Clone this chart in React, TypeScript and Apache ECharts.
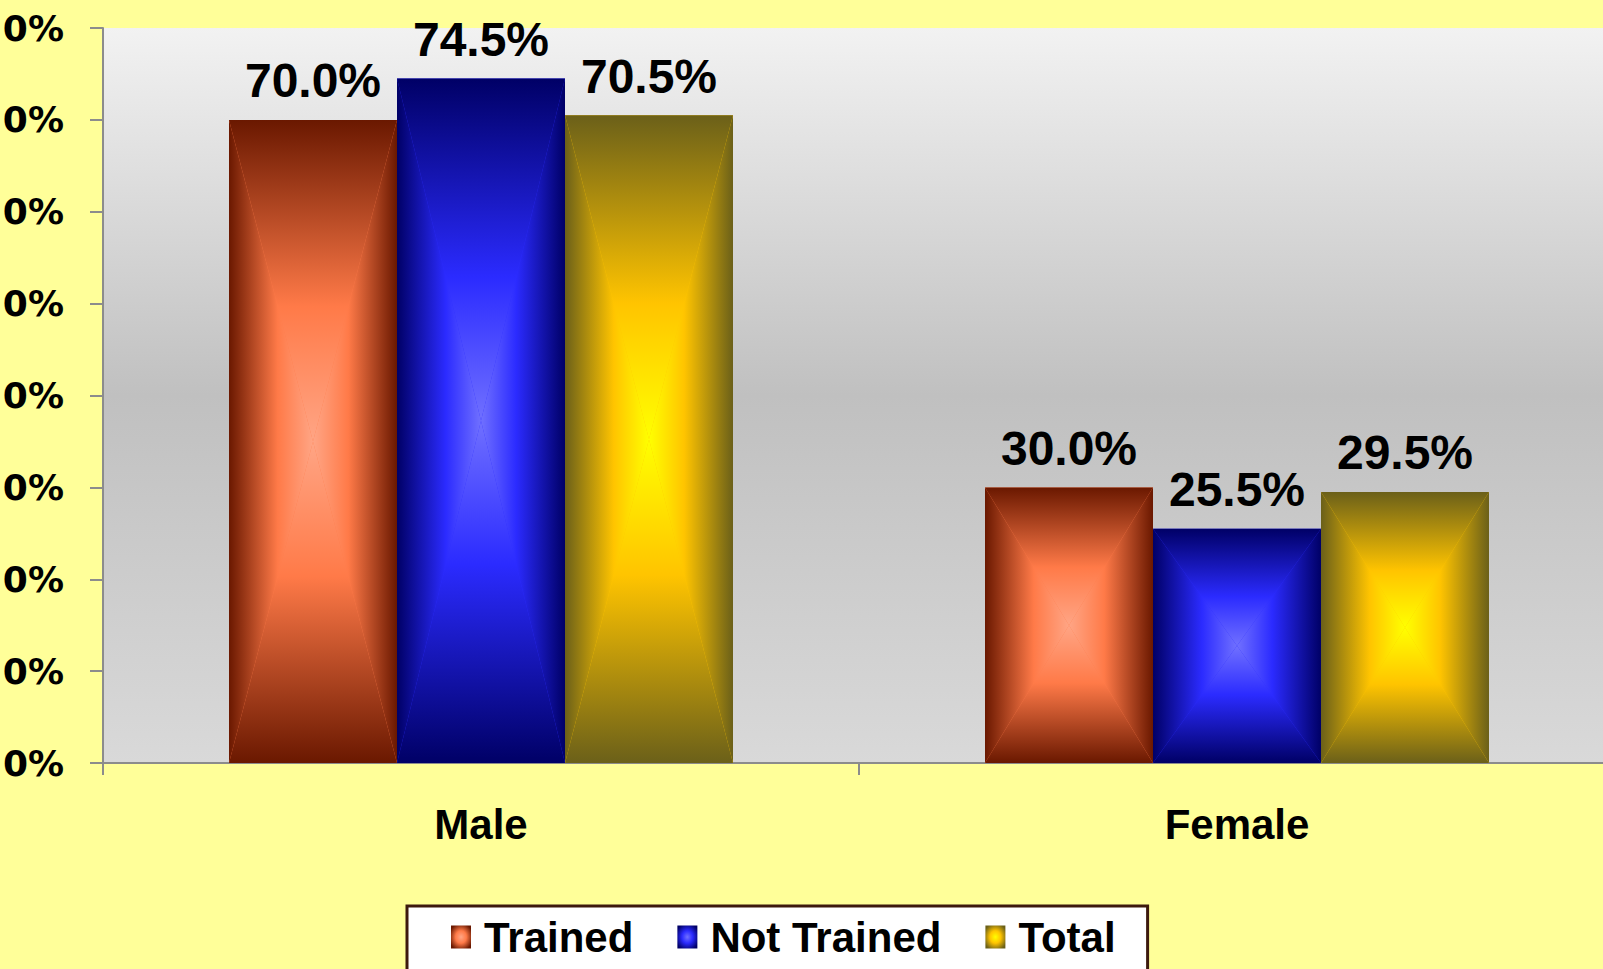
import React, { useEffect, useRef } from "react";
import * as echarts from "echarts";

const categories = ["Male", "Female"];
const seriesNames = ["Trained", "Not Trained", "Total"];
const trainedValues = [70.0, 30.0];
const notTrainedValues = [74.5, 25.5];
const totalValues = [70.5, 29.5];
const yMin = 0;
const yMax = 80;
const yInterval = 10;

const seriesValues = [trainedValues, notTrainedValues, totalValues];
const palettes = [
  { edge: "#6a1800", mid: "#ff7a48", center: "#ffa585" },
  { edge: "#000066", mid: "#2b2bff", center: "#7070ff" },
  { edge: "#6b6019", mid: "#ffc400", center: "#ffff00" },
];

const BAR_RATIO = 2 / 9;

function stops(p: { edge: string; mid: string; center: string }) {
  return [
    { offset: 0, color: p.edge },
    { offset: 0.58, color: p.mid },
    { offset: 1, color: p.center },
  ];
}

function makeRenderItem(sIdx: number) {
  const p = palettes[sIdx];
  return (_params: any, api: any) => {
    const cat = api.value(0);
    const val = api.value(1);
    const base = api.coord([cat, 0]);
    const top = api.coord([cat, val]);
    const band = api.size([1, 0])[0];
    const bw = band * BAR_RATIO;
    const x0 = base[0] + (sIdx - 1.5) * bw;
    const x1 = x0 + bw;
    const y0 = top[1];
    const y1 = base[1];
    const xc = (x0 + x1) / 2;
    const yc = (y0 + y1) / 2;
    const G = echarts.graphic.LinearGradient;
    return {
      type: "group",
      children: [
        {
          type: "rect",
          shape: { x: x0, y: y0, width: bw, height: y1 - y0 },
          style: { fill: p.mid },
        },
        {
          type: "polygon",
          shape: { points: [[x0, y0], [x1, y0], [xc, yc]] },
          style: { fill: new G(0, 0, 0, 1, stops(p)) },
        },
        {
          type: "polygon",
          shape: { points: [[x0, y1], [x1, y1], [xc, yc]] },
          style: { fill: new G(0, 1, 0, 0, stops(p)) },
        },
        {
          type: "polygon",
          shape: { points: [[x0, y0], [x0, y1], [xc, yc]] },
          style: { fill: new G(0, 0, 1, 0, stops(p)) },
        },
        {
          type: "polygon",
          shape: { points: [[x1, y0], [x1, y1], [xc, yc]] },
          style: { fill: new G(1, 0, 0, 0, stops(p)) },
        },
        {
          type: "text",
          style: {
            text: val.toFixed(1) + "%",
            x: xc,
            y: y0 - 15,
            align: "center",
            verticalAlign: "bottom",
            fill: "#000",
            fontSize: 48,
            fontWeight: "bold",
            fontFamily: "'Liberation Sans', Arial, sans-serif",
          },
        },
      ],
    };
  };
}

export default function App() {
  const ref = useRef<HTMLDivElement>(null);
  useEffect(() => {
    if (!ref.current) return;
    const chart = echarts.init(ref.current, undefined, { renderer: "svg" });
    const option: any = {
      animation: false,
      backgroundColor: "#ffff99",
      grid: {
        left: 103,
        top: 28,
        width: 1512,
        height: 735,
        show: true,
        borderWidth: 0,
        backgroundColor: new echarts.graphic.LinearGradient(0, 0, 0, 1, [
          { offset: 0, color: "#f2f2f2" },
          { offset: 0.5, color: "#c0c0c0" },
          { offset: 1, color: "#d9d9d9" },
        ]),
        containLabel: false,
        outerBoundsMode: "none",
      },
      legend: {
        left: 407,
        top: 906,
        orient: "horizontal",
        data: seriesNames,
        icon: "rect",
        itemWidth: 20,
        itemHeight: 23,
        itemGap: 44,
        padding: [10, 32, 40, 44],
        backgroundColor: "#ffffff",
        borderColor: "#3d1a0d",
        borderWidth: 3,
        borderRadius: 0,
        textStyle: {
          fontSize: 42,
          fontWeight: "bold",
          fontFamily: "'Liberation Sans', Arial, sans-serif",
          color: "#000",
          padding: [0, 0, 0, 8],
        },
      },
      xAxis: {
        type: "category",
        data: categories,
        boundaryGap: true,
        axisLine: { show: true, lineStyle: { color: "#8c8c8c", width: 2 } },
        axisTick: { show: true, length: 12, lineStyle: { color: "#8c8c8c", width: 2 } },
        axisLabel: {
          margin: 40,
          fontSize: 42,
          fontWeight: "bold",
          color: "#000",
          fontFamily: "'Liberation Sans', Arial, sans-serif",
        },
        splitLine: { show: false },
      },
      yAxis: {
        type: "value",
        min: yMin,
        max: yMax,
        interval: yInterval,
        axisLine: { show: true, lineStyle: { color: "#8c8c8c", width: 2 } },
        axisTick: { show: true, length: 13, lineStyle: { color: "#8c8c8c", width: 2 } },
        splitLine: { show: false },
        axisLabel: {
          margin: 39,
          fontSize: 36,
          fontWeight: "bold",
          color: "#000",
          fontFamily: "'DejaVu Sans', Verdana, sans-serif",
          formatter: (v: number) => v.toFixed(1) + "%",
        },
      },
      series: seriesNames.map((name, i) => ({
        name,
        type: "custom",
        clip: false,
        renderItem: makeRenderItem(i),
        itemStyle: {
          color: new echarts.graphic.RadialGradient(0.5, 0.5, 0.6, [
            { offset: 0, color: palettes[i].center },
            { offset: 0.45, color: palettes[i].mid },
            { offset: 1, color: palettes[i].edge },
          ]),
        },
        encode: { x: 0, y: 1 },
        data: seriesValues[i].map((v, c) => [c, v]),
        z: 3,
      })),
    };
    chart.setOption(option);
    return () => chart.dispose();
  }, []);
  return (
    <div
      ref={ref}
      style={{ position: "absolute", left: 0, top: 0, width: 1603, height: 969 }}
    />
  );
}
